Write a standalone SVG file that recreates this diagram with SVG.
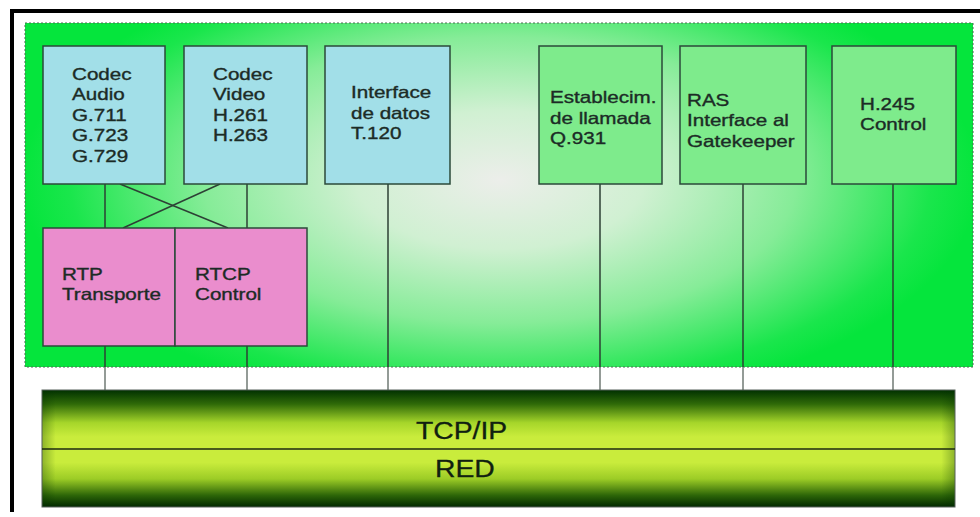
<svg xmlns="http://www.w3.org/2000/svg" width="980" height="517" viewBox="0 0 980 517">
<defs>
<radialGradient id="bgGrad" gradientUnits="userSpaceOnUse" cx="500" cy="180" r="330" gradientTransform="translate(500 180) scale(1.45 0.7) translate(-500 -180)">
<stop offset="0" stop-color="#eceeea"/>
<stop offset="0.3" stop-color="#d0f0d2"/>
<stop offset="0.62" stop-color="#86ec98"/>
<stop offset="0.9" stop-color="#1ae64c"/>
<stop offset="1" stop-color="#05e53c"/>
</radialGradient>
<linearGradient id="barV" x1="0" y1="0" x2="0" y2="1">
<stop offset="0" stop-color="#003000"/>
<stop offset="0.12" stop-color="#2f6a08"/>
<stop offset="0.28" stop-color="#a6d62a"/>
<stop offset="0.4" stop-color="#c9ec3c"/>
<stop offset="0.62" stop-color="#c9ec3c"/>
<stop offset="0.76" stop-color="#9ccc26"/>
<stop offset="0.9" stop-color="#2d6608"/>
<stop offset="1" stop-color="#002800"/>
</linearGradient>
<linearGradient id="barH" x1="0" y1="0" x2="1" y2="0">
<stop offset="0" stop-color="#003000" stop-opacity="0.3"/>
<stop offset="0.015" stop-color="#003000" stop-opacity="0"/>
<stop offset="0.985" stop-color="#003000" stop-opacity="0"/>
<stop offset="1" stop-color="#003000" stop-opacity="0.3"/>
</linearGradient>
</defs>
<style>
.box{stroke:#2b4a3a;stroke-width:1.5}
.blue{fill:#a2dfe8}
.green{fill:#7eeb8c}
.pink{fill:#ea8dcd}
.lbl{font-family:"Liberation Sans",Arial,sans-serif;font-size:16.5px;fill:#1c2b26;stroke:#1c2b26;stroke-width:0.35}
.big{font-family:"Liberation Sans",Arial,sans-serif;font-size:24px;fill:#102010;stroke:#102010;stroke-width:0.3}
.ln{stroke:#2d4035;stroke-width:1.5;fill:none}
.lnout{stroke:#707a74;stroke-width:1.5;fill:none}
</style>
<rect x="0" y="0" width="980" height="517" fill="#ffffff"/>
<g id="frame">
<line x1="10" y1="11" x2="980" y2="11" stroke="#000" stroke-width="4"/>
<line x1="12" y1="9" x2="12" y2="512" stroke="#000" stroke-width="4"/>
</g>
<g id="h323-area">
<rect x="25" y="23" width="948" height="344" fill="url(#bgGrad)" stroke="#4a6a50" stroke-width="1" stroke-dasharray="2 2"/>
</g>
<g id="connectors">
<line class="ln" x1="105" y1="184" x2="105" y2="228"/>
<line class="ln" x1="247" y1="184" x2="247" y2="228"/>
<line class="ln" x1="120" y1="184" x2="228" y2="228"/>
<line class="ln" x1="220" y1="184" x2="123" y2="228"/>
<line class="ln" x1="105" y1="346" x2="105" y2="367"/>
<line class="ln" x1="247" y1="346" x2="247" y2="367"/>
<line class="ln" x1="388" y1="184" x2="388" y2="367"/>
<line class="ln" x1="600" y1="184" x2="600" y2="367"/>
<line class="ln" x1="743" y1="184" x2="743" y2="367"/>
<line class="ln" x1="893" y1="184" x2="893" y2="367"/>
<line class="lnout" x1="105" y1="367" x2="105" y2="390"/>
<line class="lnout" x1="247" y1="367" x2="247" y2="390"/>
<line class="lnout" x1="388" y1="367" x2="388" y2="390"/>
<line class="lnout" x1="600" y1="367" x2="600" y2="390"/>
<line class="lnout" x1="743" y1="367" x2="743" y2="390"/>
<line class="lnout" x1="893" y1="367" x2="893" y2="390"/>
</g>
<g id="codec-audio">
<rect class="box blue" x="43" y="46" width="122" height="138"/>
<text class="lbl" transform="matrix(1.25 0 0 1 72 0)"><tspan x="0" y="80">Codec</tspan><tspan x="0" y="100.5">Audio</tspan><tspan x="0" y="121">G.711</tspan><tspan x="0" y="141.5">G.723</tspan><tspan x="0" y="162">G.729</tspan></text>
</g>
<g id="codec-video">
<rect class="box blue" x="184" y="46" width="123" height="138"/>
<text class="lbl" transform="matrix(1.25 0 0 1 213 0)"><tspan x="0" y="80">Codec</tspan><tspan x="0" y="100.5">Video</tspan><tspan x="0" y="121">H.261</tspan><tspan x="0" y="141.5">H.263</tspan></text>
</g>
<g id="interface-datos">
<rect class="box blue" x="325" y="46" width="125" height="138"/>
<text class="lbl" transform="matrix(1.25 0 0 1 351 0)"><tspan x="0" y="98.5">Interface</tspan><tspan x="0" y="119">de datos</tspan><tspan x="0" y="139.5">T.120</tspan></text>
</g>
<g id="establecim">
<rect class="box green" x="539" y="46" width="123" height="138"/>
<text class="lbl" transform="matrix(1.25 0 0 1 550 0)"><tspan x="0" y="103.5">Establecim.</tspan><tspan x="0" y="124">de llamada</tspan><tspan x="0" y="144.5">Q.931</tspan></text>
</g>
<g id="ras">
<rect class="box green" x="680" y="46" width="126" height="138"/>
<text class="lbl" transform="matrix(1.25 0 0 1 687 0)"><tspan x="0" y="106">RAS</tspan><tspan x="0" y="126.5">Interface al</tspan><tspan x="0" y="147">Gatekeeper</tspan></text>
</g>
<g id="h245">
<rect class="box green" x="832" y="46" width="124" height="138"/>
<text class="lbl" transform="matrix(1.25 0 0 1 860 0)"><tspan x="0" y="110">H.245</tspan><tspan x="0" y="130.5">Control</tspan></text>
</g>
<g id="rtp">
<rect class="box pink" x="43" y="228" width="132" height="118"/>
<text class="lbl" transform="matrix(1.25 0 0 1 62 0)"><tspan x="0" y="280">RTP</tspan><tspan x="0" y="300.5">Transporte</tspan></text>
</g>
<g id="rtcp">
<rect class="box pink" x="175" y="228" width="132" height="118"/>
<text class="lbl" transform="matrix(1.25 0 0 1 195 0)"><tspan x="0" y="280">RTCP</tspan><tspan x="0" y="300.5">Control</tspan></text>
</g>
<g id="tcpip-red">
<rect x="42" y="390" width="913" height="117" fill="url(#barV)"/>
<rect x="42" y="390" width="913" height="117" fill="url(#barH)" stroke="#56605a" stroke-width="1"/>
<line x1="42" y1="449" x2="955" y2="449" stroke="#1d2a10" stroke-width="1.5"/>
<text class="big" transform="matrix(1.18 0 0 1 416 0)" x="0" y="439">TCP/IP</text>
<text class="big" transform="matrix(1.18 0 0 1 435 0)" x="0" y="477">RED</text>
</g>
</svg>
